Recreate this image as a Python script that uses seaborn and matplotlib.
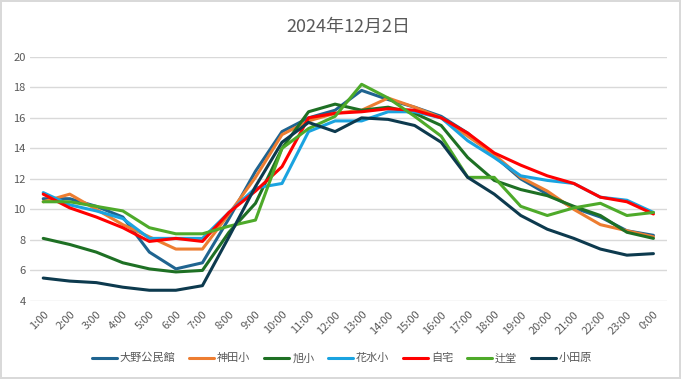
import matplotlib
matplotlib.use('Agg')
import matplotlib.pyplot as plt
import pandas as pd
import seaborn as sns

# data
hours = ['1:00', '2:00', '3:00', '4:00', '5:00', '6:00', '7:00', '8:00', '9:00', '10:00',
         '11:00', '12:00', '13:00', '14:00', '15:00', '16:00', '17:00', '18:00', '19:00',
         '20:00', '21:00', '22:00', '23:00', '0:00']
oono = [10.7, 10.7, 10.2, 9.5, 7.2, 6.1, 6.5, 9.4, 12.5, 15.1, 16.0, 16.5, 17.8, 17.2,
        16.7, 16.1, 15.0, 13.5, 12.0, 11.0, 10.1, 9.5, 8.6, 8.3]
kanda = [10.5, 11.0, 10.0, 9.0, 8.2, 7.4, 7.4, 9.7, 12.1, 14.9, 15.8, 16.3, 16.5, 17.3,
         16.7, 16.0, 14.8, 13.6, 12.1, 11.2, 10.0, 9.0, 8.6, 8.2]
asahi = [8.1, 7.7, 7.2, 6.5, 6.1, 5.9, 6.0, 8.5, 10.4, 14.0, 16.4, 16.9, 16.5, 16.7,
         16.3, 15.5, 13.4, 11.9, 11.3, 10.9, 10.2, 9.6, 8.5, 8.1]
hanamizu = [11.1, 10.3, 9.9, 9.4, 8.1, 8.1, 8.1, 9.8, 11.4, 11.7, 15.1, 15.8, 15.8, 16.4,
            16.4, 16.0, 14.5, 13.4, 12.2, 11.9, 11.7, 10.8, 10.6, 9.8]
jitaku = [11.0, 10.1, 9.5, 8.8, 7.9, 8.1, 7.9, 9.8, 11.2, 12.8, 16.0, 16.3, 16.4, 16.6,
          16.5, 16.0, 15.0, 13.7, 12.9, 12.2, 11.7, 10.8, 10.5, 9.7]
tsujido = [10.5, 10.5, 10.2, 9.9, 8.8, 8.4, 8.4, 8.9, 9.3, 14.0, 15.3, 16.1, 18.2, 17.3,
           16.1, 14.8, 12.1, 12.1, 10.2, 9.6, 10.1, 10.4, 9.6, 9.8]
odawara = [5.5, 5.3, 5.2, 4.9, 4.7, 4.7, 5.0, 8.2, 11.5, 14.4, 15.7, 15.1, 16.0, 15.9,
           15.5, 14.4, 12.1, 11.0, 9.6, 8.7, 8.1, 7.4, 7.0, 7.1]

series = {
    '大野公民館': oono,
    '神田小': kanda,
    '旭小': asahi,
    '花水小': hanamizu,
    '自宅': jitaku,
    '辻堂': tsujido,
    '小田原': odawara,
}
colors = ['#1F6490', '#ED7D31', '#1E7024', '#1AA3E0', '#FF0000', '#4EAA2A', '#0D3A4E']

rows = []
for name, vals in series.items():
    for i, v in enumerate(vals):
        rows.append({'hour': i, 'temp': v, 'site': name})
df = pd.DataFrame(rows)

sns.set_style('white')
plt.rcParams['font.family'] = ['Noto Sans CJK JP', 'DejaVu Sans']

fig = plt.figure(figsize=(6.81, 3.79), dpi=100)
fig.patch.set_edgecolor('#D9D9D9')
fig.patch.set_linewidth(1.5)
ax = fig.add_axes([0.044, 0.206, 0.935, 0.644])

sns.lineplot(data=df, x='hour', y='temp', hue='site', palette=colors, sort=False,
             estimator=None, linewidth=2.2, ax=ax)

ax.set_xlim(-0.5, 23.5)
ax.set_ylim(4, 20)
ax.set_yticks(range(4, 21, 2))
ax.set_xticks(range(len(hours)))
ax.set_xticklabels(hours, rotation=45, ha='right', rotation_mode='anchor')
ax.tick_params(axis='both', length=0, labelsize=8, colors='#595959', pad=3)
ax.tick_params(axis='x', pad=6)
ax.grid(axis='y', color='#D9D9D9', linewidth=1)
ax.set_axisbelow(True)
for s in ax.spines.values():
    s.set_visible(False)
ax.set_xlabel('')
ax.set_ylabel('')
ax.set_title('2024年12月2日', fontsize=13, color='#595959', pad=18)

handles, labels = ax.get_legend_handles_labels()
ax.legend(handles=handles, labels=labels, loc='center', bbox_to_anchor=(0.49, -0.235),
          ncol=7, frameon=False, fontsize=8, labelcolor='#595959',
          handlelength=2.3, handletextpad=0.25, columnspacing=1.2)

fig.savefig('out.png', dpi=100, edgecolor=fig.get_edgecolor())
